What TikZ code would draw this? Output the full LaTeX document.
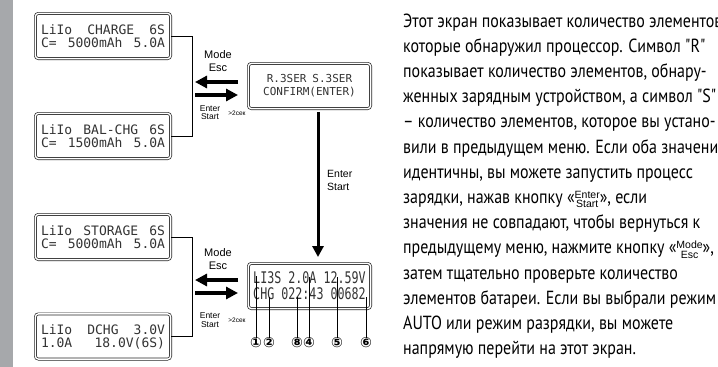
\documentclass[tikz,border=0pt]{standalone}
\usepackage{fontspec}
\setmainfont{PT Sans}
\newfontfamily\bodyfont[FakeStretch=0.84]{PT Sans}
\newfontfamily\lcdfont{DejaVu Sans Mono}
\newfontfamily\lcdnarrow[FakeStretch=0.73]{DejaVu Sans Mono}
\newfontfamily\helv{Liberation Sans}
\newfontfamily\symfont{DejaVu Sans}
\usetikzlibrary{arrows.meta}
\definecolor{bar}{HTML}{A6A8AB}
\definecolor{lcdtxt}{HTML}{333333}

\newcommand{\lcdrow}[1]{\hbox to 124pt{#1}}
\newcommand{\stk}[2]{{\helv\fontsize{10.5}{8.5}\selectfont\begin{tabular}{@{}c@{}}#1\\#2\end{tabular}}}

\begin{document}
\begin{tikzpicture}[
  x=1pt, y=-1pt,
  lcd/.style={draw=black!85, double=white, double distance=1.4pt, line width=0.7pt, rounded corners=3pt, minimum width=135.2pt, minimum height=45.2pt, inner sep=0pt, align=center, text=lcdtxt, font=\lcdfont\fontsize{13}{13}\selectfont},
  lcdr/.style={lcd, minimum width=122.2pt},
  fatarrow/.style={line width=3.6pt, -{Triangle[length=12pt,width=12pt]}},
  downarrow/.style={line width=3pt, -{Triangle[length=11pt,width=11pt]}},
  btn/.style={font=\helv\fontsize{11}{13}\selectfont, inner sep=0pt, align=center},
  btnsmall/.style={font=\helv\fontsize{8.5}{8.5}\selectfont, inner sep=0pt, align=center},
  sec/.style={font=\helv\fontsize{6.5}{7}\selectfont, inner sep=0pt},
  num/.style={font=\symfont\bfseries\fontsize{14}{14}\selectfont, inner sep=0pt},
  para/.style={anchor=base west, inner sep=0pt, font=\bodyfont\fontsize{19}{22}\selectfont},
]
\useasboundingbox (0,0) rectangle (718,367);
\clip (0,0) rectangle (718,367);

\fill[bar] (0,0) rectangle (13,367);

\node[lcd] (charge) at (103,36) {\lcdrow{LiIo\hfill CHARGE\hfill 6S}\\\lcdrow{C=\hfill 5000mAh\hfill 5.0A}};
\node[lcd] (balchg) at (103,136) {\lcdrow{LiIo\hfill BAL-CHG\hfill 6S}\\\lcdrow{C=\hfill 1500mAh\hfill 5.0A}};
\node[lcd] (storage) at (103,237) {\lcdrow{LiIo\hfill STORAGE\hfill 6S}\\\lcdrow{C=\hfill 5000mAh\hfill 5.0A}};
\node[lcd] (dchg) at (103,336.5) {\lcdrow{LiIo\hfill DCHG\hfill 3.0V}\\\lcdrow{1.0A\hfill 18.0V(6S)}};

\node[lcdr, font=\lcdfont\fontsize{11}{13}\selectfont] (confirm) at (309.5,86) {R.3SER\hspace{6pt}S.3SER\\CONFIRM(ENTER)};
\node[lcdr, font=\lcdnarrow\fontsize{16}{16}\selectfont] (run) at (309.5,286) {LI3S 2.0A 12.59V\\CHG 022:43 00682};

\draw[line width=1pt] (charge.east) -- ++(21.5,0) |- (balchg.east);
\draw[line width=1pt] (storage.east) -- ++(21.5,0) |- (dchg.east);

\foreach \y/\n in {82/a, 95/b, 280/c, 293/d} {
  \coordinate (l\n) at (195,\y);
  \coordinate (r\n) at (238,\y);
}
\draw[fatarrow] (ra) -- (la);
\draw[fatarrow] (lb) -- (rb);
\draw[fatarrow] (rc) -- (lc);
\draw[fatarrow] (ld) -- (rd);
\draw[downarrow] ([xshift=8.5pt,yshift=-3pt]confirm.south) -- ([xshift=8.5pt,yshift=6pt]run.north);

\node[btn] (esc1) at (218,61.5) {Mode\\Esc};
\node[btnsmall] (ent1) at (210,112.5) {Enter\\Start};
\node[sec] (sec1) at (237,113) {>2сек};
\node[btn] (esc2) at (218,259) {Mode\\Esc};
\node[btnsmall] (ent2) at (210,320) {Enter\\Start};
\node[sec] (sec2) at (237,320.5) {>2сек};
\node[btn, font=\helv\fontsize{10.5}{13}\selectfont, align=left, anchor=west] (ent3) at (327,180.5) {Enter\\Start};

\foreach \i/\x/\t/\lab in {1/256/276/①, 2/269/297/②, 8/297/297/⑧, 4/309/277/④, 5/337/277/⑤, 6/366/297/⑥} {
  \node[num] (n\i) at (\x,343) {\lab};
  \coordinate (t\i) at (\x,\t);
  \draw[line width=0.6pt] (t\i) -- (n\i.north);
}

\foreach \txt [count=\k from 0] in {
  {Этот экран показывает количество элементов,},
  {которые обнаружил процессор. Символ "R"},
  {показывает количество элементов, обнару-},
  {женных зарядным устройством, а символ "S"},
  {– количество элементов, которое вы устано-},
  {вили в предыдущем меню. Если оба значения},
  {идентичны, вы можете запустить процесс},
  {зарядки, нажав кнопку «\stk{Enter}{Start}», если},
  {значения не совпадают, чтобы вернуться к},
  {предыдущему меню, нажмите кнопку «\stk{Mode}{Esc}»,},
  {затем тщательно проверьте количество},
  {элементов батареи. Если вы выбрали режим},
  {AUTO или режим разрядки, вы можете},
  {напрямую перейти на этот экран.}}
  \node[para] (p\k) at (403,{27+25.2*\k}) {\txt};

\end{tikzpicture}
\end{document}
